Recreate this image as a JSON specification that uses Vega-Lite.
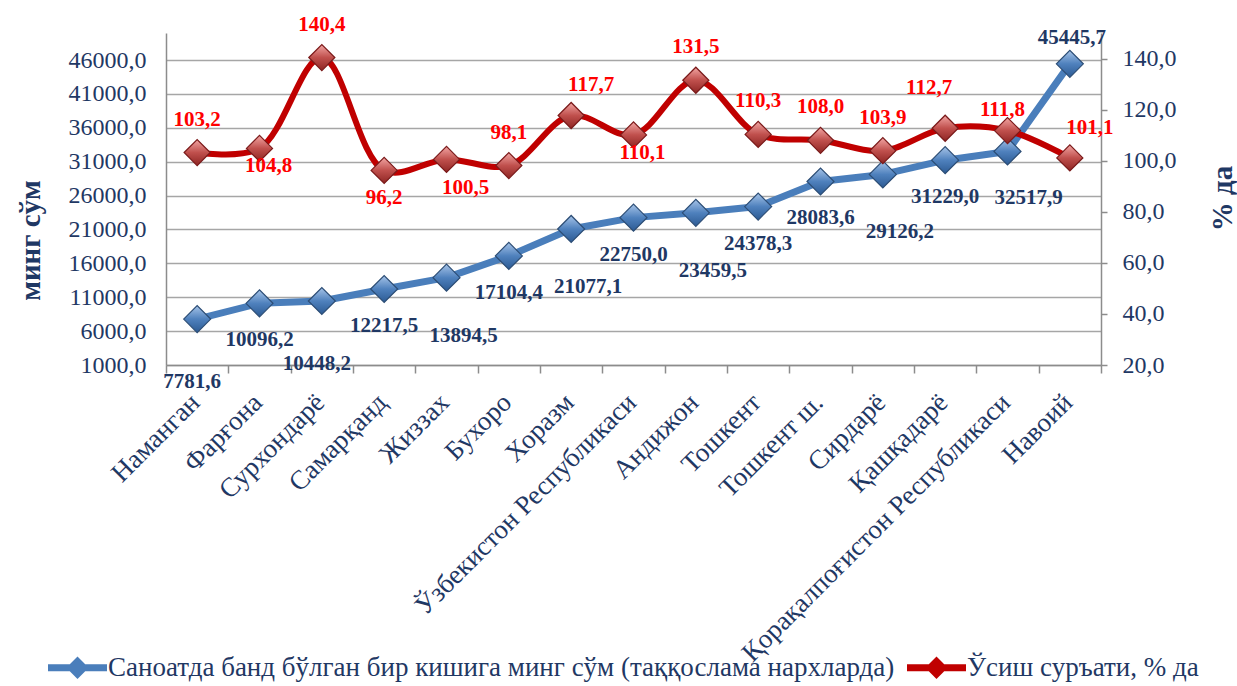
{
  "$schema": "https://vega.github.io/schema/vega-lite/v6.json",
  "width": 935,
  "height": 332,
  "autosize": {"type": "none"},
  "padding": {"left": 166, "top": 33, "right": 136, "bottom": 321},
  "background": "white",
  "config": {
    "view": {"stroke": null},
    "font": "Liberation Serif",
    "locale": {"number": {"decimal": ",", "thousands": " ", "grouping": [3], "currency": ["", ""]}},
    "axis": {"labelFont": "Liberation Serif", "titleFont": "Liberation Serif", "labelColor": "#1F3864", "titleColor": "#1F3864", "domainColor": "#8C8C8C", "domainWidth": 1.5, "tickColor": "#8C8C8C", "tickWidth": 1.5}
  },
  "data": {"values": [
    {"region": "Наманган", "income": 7781.6, "growth": 103.2},
    {"region": "Фарғона", "income": 10096.2, "growth": 104.8},
    {"region": "Сурхондарё", "income": 10448.2, "growth": 140.4},
    {"region": "Самарқанд", "income": 12217.5, "growth": 96.2},
    {"region": "Жиззах", "income": 13894.5, "growth": 100.5},
    {"region": "Бухоро", "income": 17104.4, "growth": 98.1},
    {"region": "Хоразм", "income": 21077.1, "growth": 117.7},
    {"region": "Ўзбекистон Республикаси", "income": 22750.0, "growth": 110.1},
    {"region": "Андижон", "income": 23459.5, "growth": 131.5},
    {"region": "Тошкент", "income": 24378.3, "growth": 110.3},
    {"region": "Тошкент ш.", "income": 28083.6, "growth": 108.0},
    {"region": "Сирдарё", "income": 29126.2, "growth": 103.9},
    {"region": "Қашқадарё", "income": 31229.0, "growth": 112.7},
    {"region": "Қорақалпоғистон Республикаси", "income": 32517.9, "growth": 111.8},
    {"region": "Навоий", "income": 45445.7, "growth": 101.1}
  ]},
  "encoding": {
    "x": {
      "field": "region", "type": "nominal", "sort": null,
      "scale": {"type": "band", "paddingInner": 0, "paddingOuter": 0},
      "axis": {"title": null, "labelAngle": -45, "labelAlign": "right", "labelBaseline": "middle", "labelFontSize": 27, "labelPadding": 25, "labelOffset": -2, "tickBand": "extent", "tickSize": 8, "labelLimit": 1000, "grid": false}
    }
  },
  "layer": [
    {
      "encoding": {
        "y": {
          "field": "income", "type": "quantitative",
          "scale": {"domain": [1000, 50000], "nice": false, "zero": false},
          "axis": {"title": "минг сўм", "titleFontSize": 29, "titleFontWeight": "bold", "titleAngle": 270, "titleX": -136, "titleY": 207, "titleAlign": "center", "titleBaseline": "middle", "values": [1000, 6000, 11000, 16000, 21000, 26000, 31000, 36000, 41000, 46000], "format": ".1f", "labelFontSize": 24, "labelPadding": 20, "ticks": false, "grid": true, "gridColor": "#A6A6A6", "gridWidth": 1.5}
        }
      },
      "layer": [
        {
          "mark": {"type": "line", "strokeWidth": 7, "strokeCap": "round", "strokeJoin": "round"},
          "encoding": {"color": {"datum": "Саноатда банд бўлган бир кишига минг сўм (таққослама нархларда)", "type": "nominal",
            "scale": {"domain": ["Саноатда банд бўлган бир кишига минг сўм (таққослама нархларда)", "Ўсиш суръати, % да"], "range": ["#4A7EBB", "#C00000"]},
            "legend": {"orient": "none", "legendX": -118, "legendY": 605, "direction": "horizontal", "title": null, "labelFont": "Liberation Serif", "labelFontSize": 27, "labelColor": "#1F3864", "labelLimit": 2000, "labelOffset": 1, "columnPadding": 12,
              "symbolType": "M-1,-0.12L1,-0.12L1,0.12L-1,0.12Z M0,-0.38L0.38,0L0,0.38L-0.38,0Z", "symbolSize": 3481, "symbolStrokeWidth": 0,
              "encode": {"symbols": {"update": {"fill": {"scale": "color", "field": "value"}, "opacity": {"value": 1}, "strokeWidth": {"value": 0}}}}}}}
        },
        {
          "mark": {"type": "point", "shape": "diamond", "filled": true, "size": 729, "opacity": 1, "stroke": "#2C4D75", "strokeWidth": 1.2,
            "fill": {"gradient": "linear", "x1": 0, "y1": 0, "x2": 0, "y2": 1, "stops": [{"offset": 0, "color": "#A7C4E8"}, {"offset": 0.5, "color": "#4F81BD"}, {"offset": 1, "color": "#2C5A93"}]}}
        },
        {
          "transform": [{"filter": "indexof(['Фарғона','Самарқанд','Бухоро','Ўзбекистон Республикаси','Тошкент','Тошкент ш.','Қашқадарё'], datum.region) >= 0"}],
          "mark": {"type": "text", "fontSize": 21, "fontWeight": "bold", "color": "#1F3864", "dx": 0, "dy": 37, "baseline": "middle"},
          "encoding": {"text": {"field": "income", "type": "quantitative", "format": ".1f"}}
        },
        {
          "transform": [{"filter": "indexof(['Жиззах','Хоразм','Андижон','Сирдарё'], datum.region) >= 0"}],
          "mark": {"type": "text", "fontSize": 21, "fontWeight": "bold", "color": "#1F3864", "dx": 17, "dy": 58, "baseline": "middle"},
          "encoding": {"text": {"field": "income", "type": "quantitative", "format": ".1f"}}
        },
        {
          "transform": [{"filter": "indexof(['Наманган','Сурхондарё'], datum.region) >= 0"}],
          "mark": {"type": "text", "fontSize": 21, "fontWeight": "bold", "color": "#1F3864", "dx": -5, "dy": 63, "baseline": "middle"},
          "encoding": {"text": {"field": "income", "type": "quantitative", "format": ".1f"}}
        },
        {
          "transform": [{"filter": "datum.region === 'Қорақалпоғистон Республикаси'"}],
          "mark": {"type": "text", "fontSize": 21, "fontWeight": "bold", "color": "#1F3864", "dx": 21, "dy": 47, "baseline": "middle"},
          "encoding": {"text": {"field": "income", "type": "quantitative", "format": ".1f"}}
        },
        {
          "transform": [{"filter": "datum.region === 'Навоий'"}],
          "mark": {"type": "text", "fontSize": 21, "fontWeight": "bold", "color": "#1F3864", "dx": 2, "dy": -26, "baseline": "middle"},
          "encoding": {"text": {"field": "income", "type": "quantitative", "format": ".1f"}}
        }
      ]
    },
    {
      "encoding": {
        "y": {
          "field": "growth", "type": "quantitative",
          "scale": {"domain": [20, 150], "nice": false, "zero": false},
          "axis": {"orient": "right", "title": "% да", "titleFontSize": 29, "titleFontWeight": "bold", "titleAngle": 270, "titleX": 121, "titleY": 165, "titleAlign": "center", "titleBaseline": "middle", "values": [20, 40, 60, 80, 100, 120, 140], "format": ".1f", "labelFontSize": 24, "labelPadding": 15, "tickSize": 6, "grid": false}
        }
      },
      "layer": [
        {
          "mark": {"type": "line", "strokeWidth": 6, "interpolate": "catmull-rom", "strokeCap": "round"},
          "encoding": {"color": {"datum": "Ўсиш суръати, % да", "type": "nominal"}}
        },
        {
          "mark": {"type": "point", "shape": "diamond", "filled": true, "size": 680, "opacity": 1, "stroke": "#7A1A1A", "strokeWidth": 1.2,
            "fill": {"gradient": "linear", "x1": 0, "y1": 0, "x2": 0, "y2": 1, "stops": [{"offset": 0, "color": "#F2A6A4"}, {"offset": 0.5, "color": "#C0504D"}, {"offset": 1, "color": "#8E2523"}]}}
        },
        {
          "transform": [{"filter": "indexof(['Наманган','Сурхондарё','Бухоро','Андижон','Тошкент','Тошкент ш.','Сирдарё'], datum.region) >= 0"}],
          "mark": {"type": "text", "fontSize": 21, "fontWeight": "bold", "color": "#FF0000", "dx": 0, "dy": -33, "baseline": "middle"},
          "encoding": {"text": {"field": "growth", "type": "quantitative", "format": ".1f"}}
        },
        {
          "transform": [{"filter": "indexof(['Хоразм','Навоий'], datum.region) >= 0"}],
          "mark": {"type": "text", "fontSize": 21, "fontWeight": "bold", "color": "#FF0000", "dx": 20, "dy": -30, "baseline": "middle"},
          "encoding": {"text": {"field": "growth", "type": "quantitative", "format": ".1f"}}
        },
        {
          "transform": [{"filter": "datum.region === 'Қашқадарё'"}],
          "mark": {"type": "text", "fontSize": 21, "fontWeight": "bold", "color": "#FF0000", "dx": -16, "dy": -40, "baseline": "middle"},
          "encoding": {"text": {"field": "growth", "type": "quantitative", "format": ".1f"}}
        },
        {
          "transform": [{"filter": "datum.region === 'Қорақалпоғистон Республикаси'"}],
          "mark": {"type": "text", "fontSize": 21, "fontWeight": "bold", "color": "#FF0000", "dx": -5, "dy": -21, "baseline": "middle"},
          "encoding": {"text": {"field": "growth", "type": "quantitative", "format": ".1f"}}
        },
        {
          "transform": [{"filter": "indexof(['Фарғона','Ўзбекистон Республикаси'], datum.region) >= 0"}],
          "mark": {"type": "text", "fontSize": 21, "fontWeight": "bold", "color": "#FF0000", "dx": 9, "dy": 18, "baseline": "middle"},
          "encoding": {"text": {"field": "growth", "type": "quantitative", "format": ".1f"}}
        },
        {
          "transform": [{"filter": "datum.region === 'Самарқанд'"}],
          "mark": {"type": "text", "fontSize": 21, "fontWeight": "bold", "color": "#FF0000", "dx": 0, "dy": 28, "baseline": "middle"},
          "encoding": {"text": {"field": "growth", "type": "quantitative", "format": ".1f"}}
        },
        {
          "transform": [{"filter": "datum.region === 'Жиззах'"}],
          "mark": {"type": "text", "fontSize": 21, "fontWeight": "bold", "color": "#FF0000", "dx": 19, "dy": 29, "baseline": "middle"},
          "encoding": {"text": {"field": "growth", "type": "quantitative", "format": ".1f"}}
        }
      ]
    }
  ],
  "resolve": {"scale": {"y": "independent"}}
}
